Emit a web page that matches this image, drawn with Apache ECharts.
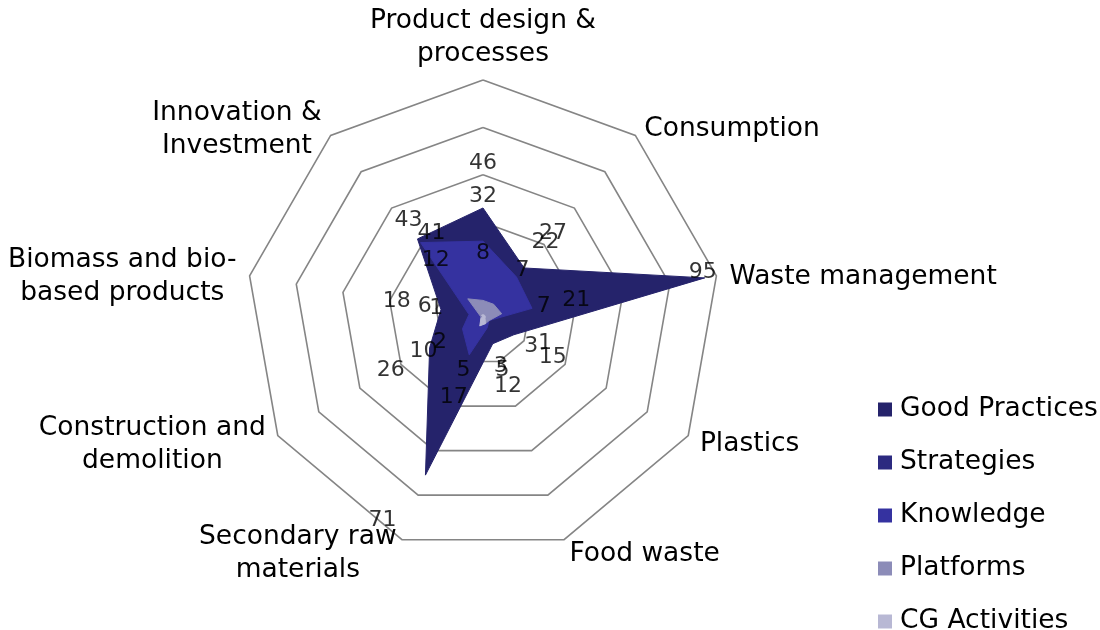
<!DOCTYPE html>
<html>
<head>
<meta charset="utf-8">
<script src="https://cdn.jsdelivr.net/npm/echarts@6/dist/echarts.min.js"></script>
<style>
html,body{margin:0;padding:0;background:#ffffff;}
#chart{width:1100px;height:630px;}
</style>
</head>
<body>
<div id="chart"></div>
<script>
// ---- data (clockwise from the top axis) ----
const categories = [
  'Product design &\nprocesses',
  'Consumption',
  'Waste management',
  'Plastics',
  'Food waste',
  'Secondary raw\nmaterials',
  'Construction and\ndemolition',
  'Biomass and bio-\nbased products',
  'Innovation &\nInvestment'
];
const seriesNames = ['Good Practices', 'Strategies', 'Knowledge', 'Platforms', 'CG Activities'];
const goodPractices = [46, 27, 95, 15, 12, 71, 26, 18, 43];
const strategies    = [8, 7, 7, 1, 3, 5, 2, 1, 12];
const knowledge     = [32, 22, 21, 3, 5, 17, 10, 6, 41];
const platforms     = [7, 7, 8, 3, 3, 3, 1, 1, 10];
const cgActivities  = [1, 1, 1, 1, 3, 4, 1, 0, 1];
const axisMax = 100;
const labelledSeries = ['Good Practices', 'Strategies', 'Knowledge'];

// ---- styling ----
const FONT = 'DejaVu Sans';
const NAME_SIZE = 26.5;
const colors = {
  'Good Practices': '#25236B',
  'Strategies': '#2C2A80',
  'Knowledge': '#3532A0',
  'Platforms': '#8C8CB8',
  'CG Activities': '#B8B8D4'
};
const CENTER = [483, 317];
const RADIUS = 237;
const LABEL_DIST = 45;
// label nudges (pixels) where the original moved labels to avoid overlaps
const labelNudge = {
  'Good Practices': {2: [-2, -6], 5: [-43, 45], 8: [-9, -19]},
  'Strategies': {3: [60, 25]},
  'Knowledge': {8: [11, -9], 3: [42, 26]}
};

const valuesByName = {
  'Good Practices': goodPractices,
  'Strategies': strategies,
  'Knowledge': knowledge,
  'Platforms': platforms,
  'CG Activities': cgActivities
};

const n = categories.length;
const step = 360 / n;
// ECharts radar runs counter-clockwise; reorder so the chart reads clockwise
const radarOrder = [0].concat(Array.from({length: n - 1}, (_, k) => n - 1 - k));
const toRadar = arr => radarOrder.map(i => arr[i]);

// measure names to centre multi-line axis names
const ctx = document.createElement('canvas').getContext('2d');
ctx.font = NAME_SIZE + 'px "' + FONT + '"';
const rich = {};
categories.forEach((c, i) => {
  const w = Math.max(...c.split('\n').map(l => ctx.measureText(l).width));
  rich['n' + i] = {width: Math.ceil(w) + 2, align: 'center', fontSize: NAME_SIZE, lineHeight: 33,
                   padding: [6, 0, 0, 0], fontFamily: FONT, color: '#000'};
});

const series = [];
seriesNames.forEach(name => {
  series.push({
    type: 'radar',
    name: name,
    z: 2,
    symbol: 'none',
    silent: true,
    itemStyle: {color: colors[name]},
    lineStyle: {color: colors[name], width: 1},
    areaStyle: {color: colors[name], opacity: 1},
    data: [{name: name, value: toRadar(valuesByName[name])}]
  });
});
labelledSeries.forEach(name => {
  const vals = valuesByName[name];
  const offsets = vals.map((v, i) => {
    const a = (90 - i * step) * Math.PI / 180;
    const nudge = (labelNudge[name] || {})[i];
    return nudge ? nudge : [LABEL_DIST * Math.cos(a), -LABEL_DIST * Math.sin(a)];
  });
  series.push({
    type: 'scatter',
    name: name + ' labels',
    coordinateSystem: 'polar',
    z: 10,
    silent: true,
    symbolSize: 2,
    itemStyle: {color: 'rgba(0,0,0,0)'},
    label: {
      show: true,
      position: 'inside',
      fontSize: 22,
      fontFamily: FONT,
      color: '#000000',
      textBorderWidth: 0,
      formatter: p => String(p.value[0])
    },
    labelLayout: params => ({dx: offsets[params.dataIndex][0], dy: offsets[params.dataIndex][1], hideOverlap: false}),
    data: vals.map((v, i) => [v, i * step])
  });
});

const chart = echarts.init(document.getElementById('chart'), null, {renderer: 'canvas'});
chart.setOption({
  animation: false,
  backgroundColor: '#ffffff',
  textStyle: {fontFamily: FONT},
  radar: {
    center: CENTER,
    radius: RADIUS,
    startAngle: 90,
    splitNumber: 5,
    shape: 'polygon',
    nameGap: 12,
    indicator: radarOrder.map(i => ({name: categories[i], min: 0, max: axisMax})),
    axisName: {
      color: '#000',
      fontSize: NAME_SIZE,
      fontFamily: FONT,
      formatter: (name) => {
        const i = categories.indexOf(name);
        return name.split('\n').map(l => '{n' + i + '|' + l + '}').join('\n');
      },
      rich: rich
    },
    splitLine: {lineStyle: {color: '#858585', width: 1.6}},
    splitArea: {show: false},
    axisLine: {show: false},
    axisTick: {show: false},
    axisLabel: {show: false}
  },
  polar: {center: CENTER, radius: RADIUS},
  angleAxis: {type: 'value', min: 0, max: 360, startAngle: 90, clockwise: true, show: false},
  radiusAxis: {type: 'value', min: 0, max: axisMax, show: false},
  legend: {
    orient: 'vertical',
    left: 878,
    top: 396,
    height: 300,
    padding: 0,
    itemWidth: 14,
    itemHeight: 14,
    itemGap: 26,
    icon: 'rect',
    data: seriesNames,
    selectedMode: false,
    textStyle: {fontSize: NAME_SIZE, fontFamily: FONT, color: '#000', lineHeight: 27, padding: [0, 0, 0, 3]}
  },
  series: series
});
</script>
</body>
</html>
